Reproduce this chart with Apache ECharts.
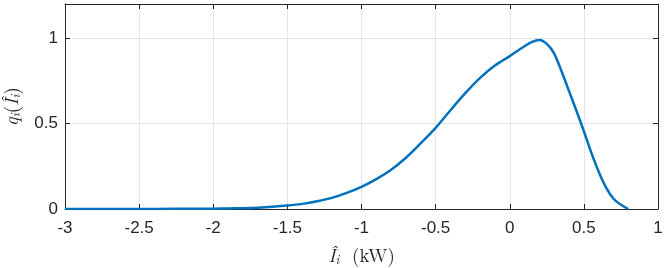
<!DOCTYPE html>
<html>
<head>
<meta charset="utf-8">
<script src="https://cdn.jsdelivr.net/npm/echarts@6/dist/echarts.min.js"></script>
<style>html,body{margin:0;padding:0;background:#fff}#c{width:665px;height:268px}</style>
</head>
<body>
<div id="c"></div>
<script>
const xValues = [-3, -2.75, -2.5, -2.25, -2, -1.9, -1.8, -1.7, -1.6, -1.5, -1.4, -1.3, -1.2, -1.1, -1, -0.9, -0.8, -0.7, -0.6, -0.5, -0.4, -0.3, -0.2, -0.1, 0, 0.05, 0.1, 0.15, 0.2, 0.25, 0.3, 0.35, 0.4, 0.45, 0.5, 0.55, 0.6, 0.65, 0.7, 0.75, 0.8];
const qValues = [0, 0, 0, 0.001, 0.002, 0.003, 0.005, 0.008, 0.013, 0.02, 0.03, 0.045, 0.065, 0.094, 0.13, 0.175, 0.23, 0.3, 0.385, 0.475, 0.578, 0.678, 0.768, 0.84, 0.895, 0.925, 0.953, 0.978, 0.99, 0.967, 0.91, 0.805, 0.69, 0.575, 0.455, 0.33, 0.218, 0.125, 0.06, 0.025, 0];
const xTicks = [-3, -2.5, -2, -1.5, -1, -0.5, 0, 0.5, 1];
const yTicks = [0, 0.5, 1];

const chart = echarts.init(document.getElementById('c'), null, {renderer: 'canvas'});
const tickFont = {fontFamily: 'Liberation Sans, Arial, sans-serif', fontSize: 17, color: '#262626'};
const serif = 'Latin Modern Roman, DejaVu Serif, Liberation Serif, serif';
const rich = {
  i: {fontFamily: serif, fontStyle: 'italic', fontSize: 19, color: '#262626'},
  s: {fontFamily: serif, fontStyle: 'italic', fontSize: 13, color: '#262626', padding: [9, 0, 0, 0]},
  n: {fontFamily: serif, fontSize: 19, color: '#262626'}
};
chart.setOption({
  animation: false,
  grid: {left: 65, right: 7, top: 4, bottom: 59, show: false, containLabel: false, outerBoundsMode: 'none'},
  xAxis: [{
    type: 'value', min: -3, max: 1, interval: 0.5, position: 'bottom',
    axisLine: {show: true, onZero: false, lineStyle: {color: '#262626', width: 1}},
    axisTick: {show: true, inside: true, length: 5, lineStyle: {color: '#262626'}},
    axisLabel: Object.assign({margin: 11, formatter: v => (xTicks.includes(v) ? String(v) : '')}, tickFont),
    splitLine: {show: true, lineStyle: {color: '#e5e5e5', width: 1}},
    name: '{i|Î}{s|i}{n|  (kW)}', nameLocation: 'middle', nameGap: 36,
    nameTextStyle: {rich: rich}
  }, {
    type: 'value', min: -3, max: 1, interval: 0.5, position: 'top',
    axisLine: {show: true, onZero: false, lineStyle: {color: '#262626', width: 1}},
    axisTick: {show: true, inside: true, length: 5, lineStyle: {color: '#262626'}},
    axisLabel: {show: false}, splitLine: {show: false}
  }],
  yAxis: [{
    type: 'value', min: 0, max: 1.2, interval: 0.5, position: 'left',
    axisLine: {show: true, onZero: false, lineStyle: {color: '#262626', width: 1}},
    axisTick: {show: true, inside: true, length: 5, lineStyle: {color: '#262626'}},
    axisLabel: Object.assign({margin: 7, showMaxLabel: false, formatter: v => (yTicks.includes(v) ? String(v) : '')}, tickFont),
    splitLine: {show: true, lineStyle: {color: '#e5e5e5', width: 1}},
    name: '{i|q}{s|i}{n|(}{i|Î}{s|i}{n|)}', nameLocation: 'middle', nameGap: 42, nameRotate: 90,
    nameTextStyle: {rich: rich}
  }, {
    type: 'value', min: 0, max: 1.2, interval: 0.5, position: 'right',
    axisLine: {show: true, onZero: false, lineStyle: {color: '#262626', width: 1}},
    axisTick: {show: true, inside: true, length: 5, lineStyle: {color: '#262626'}},
    axisLabel: {show: false}, splitLine: {show: false}
  }],
  series: [{
    type: 'line', xAxisIndex: 0, yAxisIndex: 0,
    data: xValues.map((x, k) => [x, qValues[k]]),
    smooth: 0.3, showSymbol: false, symbol: 'none',
    lineStyle: {color: '#0072BD', width: 2.5}
  }]
});
</script>
</body>
</html>
